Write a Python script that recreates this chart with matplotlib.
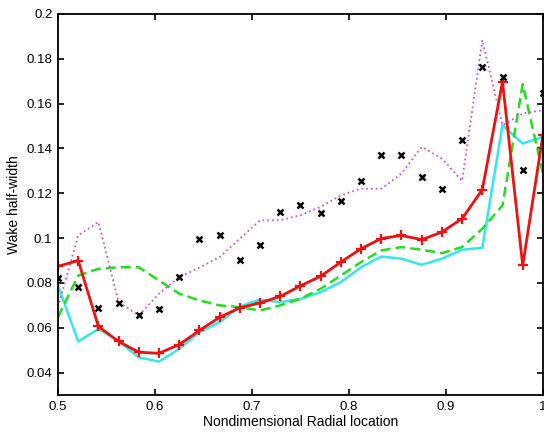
import numpy as np
import matplotlib
matplotlib.use("Agg")
import matplotlib.pyplot as plt
from matplotlib.ticker import FuncFormatter

plt.rcParams['font.family'] = ['Liberation Sans', 'DejaVu Sans']

# radial stations (25 points, spacing 1/48)
r = np.linspace(0.5, 1.0, 25)

measured = [0.0823, 0.0781, 0.0689, 0.0710, 0.0659, 0.0685, 0.0826, 0.0998, 0.1012,
            0.0901, 0.0968, 0.1117, 0.1146, 0.1114, 0.1164, 0.1254, 0.1370, 0.1370,
            0.1273, 0.1221, 0.1437, 0.1765, 0.1720, 0.1306, 0.1647]
red_model = [0.0874, 0.0900, 0.0606, 0.0539, 0.0491, 0.0486, 0.0525, 0.0588, 0.0647,
             0.0689, 0.0711, 0.0740, 0.0787, 0.0830, 0.0893, 0.0953, 0.0998, 0.1012,
             0.0993, 0.1027, 0.1087, 0.1216, 0.1698, 0.0878, 0.1460]
cyan_model = [0.0789, 0.0539, 0.0595, 0.0540, 0.0468, 0.0449, 0.0506, 0.0580, 0.0625,
              0.0695, 0.0726, 0.0714, 0.0729, 0.0759, 0.0804, 0.0870, 0.0918, 0.0908,
              0.0881, 0.0908, 0.0948, 0.0957, 0.1504, 0.1422, 0.1452]
green_model = [0.0647, 0.0833, 0.0863, 0.0870, 0.0870, 0.0811, 0.0752, 0.0722, 0.0700,
               0.0692, 0.0677, 0.0700, 0.0729, 0.0774, 0.0833, 0.0893, 0.0945, 0.0960,
               0.0948, 0.0933, 0.0960, 0.1042, 0.1146, 0.1687, 0.1288]
magenta_model = [0.0692, 0.1012, 0.1072, 0.0714, 0.0655, 0.0752, 0.0826, 0.0868, 0.0915,
                 0.0998, 0.1079, 0.1080, 0.1102, 0.1139, 0.1191, 0.1221, 0.1220, 0.1288,
                 0.1407, 0.1355, 0.1255, 0.1884, 0.1504, 0.1556, 0.1571]

fig = plt.figure(figsize=(5.44, 4.37), dpi=100)
ax = fig.add_axes([0.1066, 0.0961, 0.8914, 0.8719])

ax.plot(r, cyan_model, color='#33e8e8', lw=1.8)
ax.plot(r, green_model, color='#22dd22', lw=1.8, ls='--', dashes=(4, 2))
ax.plot(r, magenta_model, color='#cc55cc', lw=1.3, ls=':')
ax.plot(r, red_model, color='#ee1111', lw=2.0, marker='+', ms=7, mew=1.6)
ax.plot(r, measured, ls='none', color='black', marker='x', ms=4, mew=1.8)

ax.set_xlim(0.5, 1.0)
ax.set_ylim(0.03, 0.2)
ax.set_xticks(np.arange(0.5, 1.01, 0.1))
ax.set_yticks(np.arange(0.04, 0.201, 0.02))
fmt = FuncFormatter(lambda v, p: '%g' % round(v, 3))
ax.xaxis.set_major_formatter(fmt)
ax.yaxis.set_major_formatter(fmt)
ax.tick_params(direction='in', top=True, right=True, length=4, width=1.2, labelsize=9.5, pad=4)
for s in ax.spines.values():
    s.set_linewidth(1.3)

ax.set_xlabel('Nondimensional Radial location', fontsize=10, labelpad=2)
ax.set_ylabel('Wake half-width', fontsize=10, labelpad=4)

fig.savefig('out.png', dpi=100)
